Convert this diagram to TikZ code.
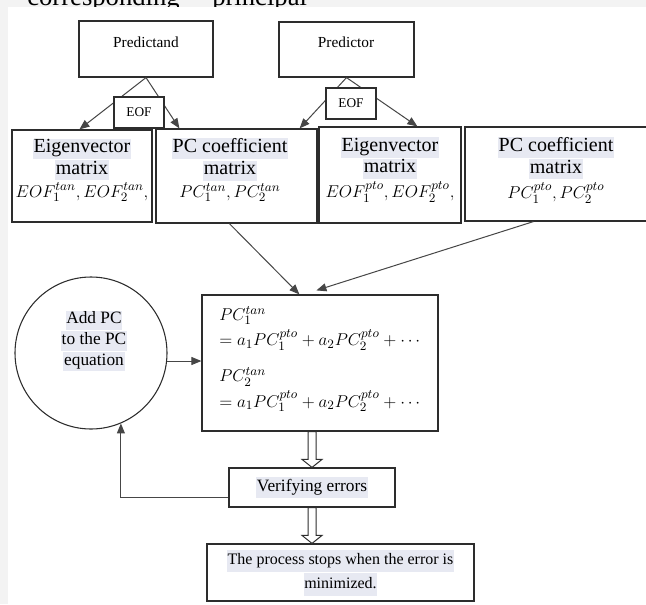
\documentclass[tikz,border=0pt]{standalone}
\usepackage{graphicx}
\usepackage{fontspec}
\setmainfont{Liberation Serif}
\usetikzlibrary{arrows.meta,calc}
\definecolor{hlc}{RGB}{231,233,242}
\definecolor{pagegray}{RGB}{243,243,243}
\definecolor{edge}{RGB}{45,45,45}
\definecolor{wire}{RGB}{70,70,70}
% shaded background behind a line of text
\newcommand\hl[1]{{\setlength\fboxsep{0.5pt}\colorbox{hlc}{\strut #1}}}
% formula line, a little wider than plain 13pt math
\newcommand\fml[1]{{\fontsize{13}{14}\selectfont\scalebox{1.07}{$#1$}}}
\begin{document}
\begin{tikzpicture}[x=0.75pt,y=-0.75pt,
  box/.style={draw=edge,line width=0.9pt,fill=white,inner sep=0pt},
  wire/.style={draw=wire,line width=0.75pt},
  arr/.style={wire,-{Triangle[length=7.5pt,width=6pt]}},
  hollow/.style={draw=edge,line width=0.75pt,fill=white},
  txt/.style={inner sep=0pt,align=center},
  boxtext/.style={txt,font=\fontsize{15}{14}\selectfont},
]
\useasboundingbox (0,0) rectangle (646,604);
\clip (0,0) rectangle (646,604);
\fill[pagegray] (0,0) rectangle (646,604);
% running text above the figure
\node[anchor=base west,inner sep=0pt,font=\fontsize{20}{24}\selectfont] (hd1) at (27,5.5) {corresponding};
\node[anchor=base west,inner sep=0pt,font=\fontsize{20}{24}\selectfont] (hd2) at (212,5.5) {principal};
\fill[white] (8,7) rectangle (646,604);

% source fields
\node[box,minimum width=100.5pt,minimum height=42pt] (pd) at (146,49) {};
\node[txt,font=\fontsize{11.5}{14}\selectfont] (pdt) at (146,42) {Predictand};
\node[box,minimum width=101.25pt,minimum height=41.25pt] (pr) at (346.5,49.5) {};
\node[txt,font=\fontsize{11.5}{14}\selectfont] (prt) at (346,42) {Predictor};

% decomposition results
\node[box,minimum width=105pt,minimum height=69pt] (b1) at (82,176) {};
\node[box,minimum width=120.75pt,minimum height=70.5pt] (b2) at (236.5,176) {};
\node[box,minimum width=106.5pt,minimum height=72pt] (b3) at (390,175) {};
\node[box,minimum width=146.25pt,minimum height=70.5pt] (b4) at (562.5,174) {};
\node[boxtext] (b1t) at (82,170) {\hl{Eigenvector}\\\hl{matrix}\\[1pt]\fml{EOF_1^{tan},EOF_2^{tan},}};
\node[boxtext] (b2t) at (230,170) {\hl{PC coefficient}\\\hl{matrix}\\[1pt]\fml{PC_1^{tan},PC_2^{tan}}};
\node[boxtext] (b3t) at (390,170) {\hl{Eigenvector}\\\hl{matrix}\\[1pt]\fml{EOF_1^{pto},EOF_2^{pto},}};
\node[boxtext] (b4t) at (556,170) {\hl{PC coefficient}\\\hl{matrix}\\[1pt]\fml{PC_1^{pto},PC_2^{pto}}};

% EOF split arrows
\draw[arr] (pd.south) -- ($(b1.north west)+(68,0)$);
\draw[arr] (pd.south) -- ($(b2.north west)+(24,0)$);
\draw[arr] (pr.south) -- ($(b2.north east)+(-18,0)$);
\draw[arr] (pr.south) -- ($(b3.north west)+(99,0)$);
\node[box,minimum width=37.5pt,minimum height=23.25pt,font=\fontsize{10}{12}\selectfont] (eofa) at (139,112.5) {EOF};
\node[box,minimum width=37.5pt,minimum height=23.25pt,font=\fontsize{10}{12}\selectfont] (eofb) at (351,103.5) {EOF};

% regression equations
\node[box,minimum width=177pt,minimum height=102pt] (eq) at (320,363) {};
\node[anchor=north west,align=left,inner sep=0pt,font=\fontsize{13}{19}\selectfont] (eqt) at (219,306)
  {\fml{PC_1^{tan}}\\ \fml{=a_1PC_1^{pto}+a_2PC_2^{pto}+\cdots}\\[8pt]
   \fml{PC_2^{tan}}\\ \fml{=a_1PC_1^{pto}+a_2PC_2^{pto}+\cdots}};
\draw[arr] ($(b2.south west)+(74,0)$) -- ($(eq.north west)+(98,0)$);
\draw[arr] ($(b4.south west)+(69,0)$) -- ($(eq.north west)+(115,-4)$);

% add-PC loop
\node[draw=edge,line width=0.8pt,circle,minimum size=114pt,inner sep=0pt] (circ) at (91,353) {};
\node[txt,font=\fontsize{13}{13.5}\selectfont] (circt) at (94,341) {\hl{Add PC}\\\hl{to the PC}\\\hl{equation}};
\draw[arr] (circ.-6) -- (circ.-6 -| eq.west);

% error check and stop
\node[box,minimum width=124.5pt,minimum height=29.25pt,font=\fontsize{13}{15}\selectfont] (ve) at (312,487.5) {\hl{Verifying errors}};
\node[box,minimum width=200.25pt,minimum height=42.75pt,align=center,font=\fontsize{12}{15.75}\selectfont] (fin) at (340.5,572.5)
  {\hl{The process stops when the error is}\\\hl{minimized.}};

\draw[hollow] let \p1=(eq.south -| ve.north), \p2=(ve.north) in
  (\x1-3pt,\y1) -- (\x1+3pt,\y1) -- (\x1+3pt,\y2+6pt) -- (\x1+7.5pt,\y2+6pt)
  -- (\x2,\y2) -- (\x1-7.5pt,\y2+6pt) -- (\x1-3pt,\y2+6pt) -- cycle;
\draw[hollow] let \p1=(ve.south), \p2=(ve.south |- fin.north) in
  (\x1-3pt,\y1) -- (\x1+3pt,\y1) -- (\x1+3pt,\y2+6pt) -- (\x1+7.5pt,\y2+6pt)
  -- (\x2,\y2) -- (\x1-7.5pt,\y2+6pt) -- (\x1-3pt,\y2+6pt) -- cycle;

\draw[arr] ($(ve.west)+(0,9.5)$) -| (circ.-67.6);
\end{tikzpicture}
\end{document}
